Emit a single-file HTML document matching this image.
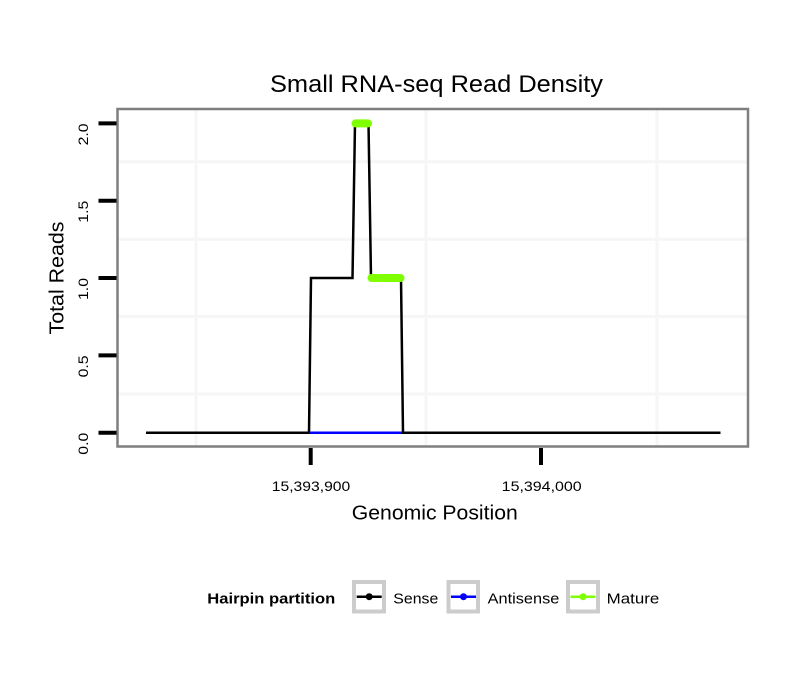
<!DOCTYPE html>
<html>
<head>
<meta charset="utf-8">
<style>
  html,body{margin:0;padding:0;background:#ffffff;}
  svg{display:block;}
  text{font-family:"Liberation Sans","DejaVu Sans",sans-serif;fill:#000;}
</style>
</head>
<body>
<svg width="810" height="690" viewBox="0 0 810 690" xmlns="http://www.w3.org/2000/svg">
  <rect x="0" y="0" width="810" height="690" fill="#ffffff"/>

  <!-- Title -->
  <text x="436.5" y="92" font-size="24" text-anchor="middle" textLength="333" lengthAdjust="spacingAndGlyphs">Small RNA-seq Read Density</text>

  <!-- Panel background -->
  <rect x="117.5" y="109" width="630.5" height="337.5" fill="#ffffff"/>

  <!-- Minor gridlines -->
  <g stroke="#f6f6f6" stroke-width="3">
    <line x1="118" y1="393.9" x2="747" y2="393.9"/>
    <line x1="118" y1="316.5" x2="747" y2="316.5"/>
    <line x1="118" y1="239.2" x2="747" y2="239.2"/>
    <line x1="118" y1="161.8" x2="747" y2="161.8"/>
    <line x1="196" y1="110" x2="196" y2="446"/>
    <line x1="426" y1="110" x2="426" y2="446"/>
    <line x1="657" y1="110" x2="657" y2="446"/>
  </g>

  <!-- Data: Sense (black) -->
  <polyline fill="none" stroke="#000000" stroke-width="2.5" stroke-linejoin="miter"
    points="146,432.7 309,432.7 311,278 352.5,278 355,123.4 368.5,123.4 371,278 401,278 403,432.7 720.5,432.7"/>
  <!-- Antisense (blue) -->
  <line x1="309.5" y1="432.7" x2="402" y2="432.7" stroke="#0000ff" stroke-width="2.5"/>
  <!-- Mature (green) -->
  <g stroke="#7fff00" stroke-width="8" stroke-linecap="round">
    <line x1="355.5" y1="123.4" x2="368" y2="123.4"/>
    <line x1="371.5" y1="278" x2="400.5" y2="278"/>
  </g>

  <!-- Panel border -->
  <rect x="117.5" y="109" width="630.5" height="337.5" fill="none" stroke="#7f7f7f" stroke-width="2.5"/>

  <!-- Y ticks -->
  <g stroke="#000" stroke-width="4">
    <line x1="98.5" y1="432.7" x2="116.5" y2="432.7"/>
    <line x1="98.5" y1="355.4" x2="116.5" y2="355.4"/>
    <line x1="98.5" y1="278" x2="116.5" y2="278"/>
    <line x1="98.5" y1="200.7" x2="116.5" y2="200.7"/>
    <line x1="98.5" y1="123.4" x2="116.5" y2="123.4"/>
  </g>
  <!-- X ticks -->
  <g stroke="#000" stroke-width="4">
    <line x1="310.7" y1="448" x2="310.7" y2="465"/>
    <line x1="541" y1="448" x2="541" y2="465"/>
  </g>

  <!-- Y tick labels (rotated) -->
  <g font-size="14">
    <text transform="translate(88,432.7) rotate(-90)" text-anchor="end" textLength="22" lengthAdjust="spacingAndGlyphs">0.0</text>
    <text transform="translate(88,355.4) rotate(-90)" text-anchor="end" textLength="22" lengthAdjust="spacingAndGlyphs">0.5</text>
    <text transform="translate(88,278) rotate(-90)" text-anchor="end" textLength="22" lengthAdjust="spacingAndGlyphs">1.0</text>
    <text transform="translate(88,200.7) rotate(-90)" text-anchor="end" textLength="22" lengthAdjust="spacingAndGlyphs">1.5</text>
    <text transform="translate(88,123.4) rotate(-90)" text-anchor="end" textLength="22" lengthAdjust="spacingAndGlyphs">2.0</text>
  </g>

  <!-- X tick labels -->
  <g font-size="14">
    <text x="311" y="491" text-anchor="middle" textLength="78.5" lengthAdjust="spacingAndGlyphs">15,393,900</text>
    <text x="541.7" y="491" text-anchor="middle" textLength="80" lengthAdjust="spacingAndGlyphs">15,394,000</text>
  </g>

  <!-- Axis titles -->
  <text x="434.8" y="519.5" font-size="20.5" text-anchor="middle" textLength="166" lengthAdjust="spacingAndGlyphs">Genomic Position</text>
  <text transform="translate(63.3,278) rotate(-90)" font-size="20.5" text-anchor="middle" textLength="113" lengthAdjust="spacingAndGlyphs">Total Reads</text>

  <!-- Legend -->
  <text x="207.3" y="603.3" font-size="14.5" font-weight="bold" textLength="128" lengthAdjust="spacingAndGlyphs">Hairpin partition</text>

  <g fill="#ffffff" stroke="#cccccc" stroke-width="4">
    <rect x="354" y="582" width="30" height="29.5"/>
    <rect x="448.5" y="582" width="29.5" height="29.5"/>
    <rect x="568" y="582" width="30" height="29.5"/>
  </g>
  <g stroke-width="2.5">
    <line x1="356.7" y1="596.7" x2="381.7" y2="596.7" stroke="#000000"/>
    <line x1="451" y1="596.7" x2="476" y2="596.7" stroke="#0000ff"/>
    <line x1="570.5" y1="596.7" x2="595.5" y2="596.7" stroke="#7fff00"/>
  </g>
  <circle cx="369.2" cy="596.7" r="3.5" fill="#000000"/>
  <circle cx="463.5" cy="596.7" r="3.5" fill="#0000ff"/>
  <circle cx="583" cy="596.7" r="3.5" fill="#7fff00"/>

  <g font-size="15">
    <text x="393.3" y="603.3" textLength="45" lengthAdjust="spacingAndGlyphs">Sense</text>
    <text x="487.7" y="603.3" textLength="71.6" lengthAdjust="spacingAndGlyphs">Antisense</text>
    <text x="606.7" y="603.3" textLength="52.6" lengthAdjust="spacingAndGlyphs">Mature</text>
  </g>
</svg>
</body>
</html>
